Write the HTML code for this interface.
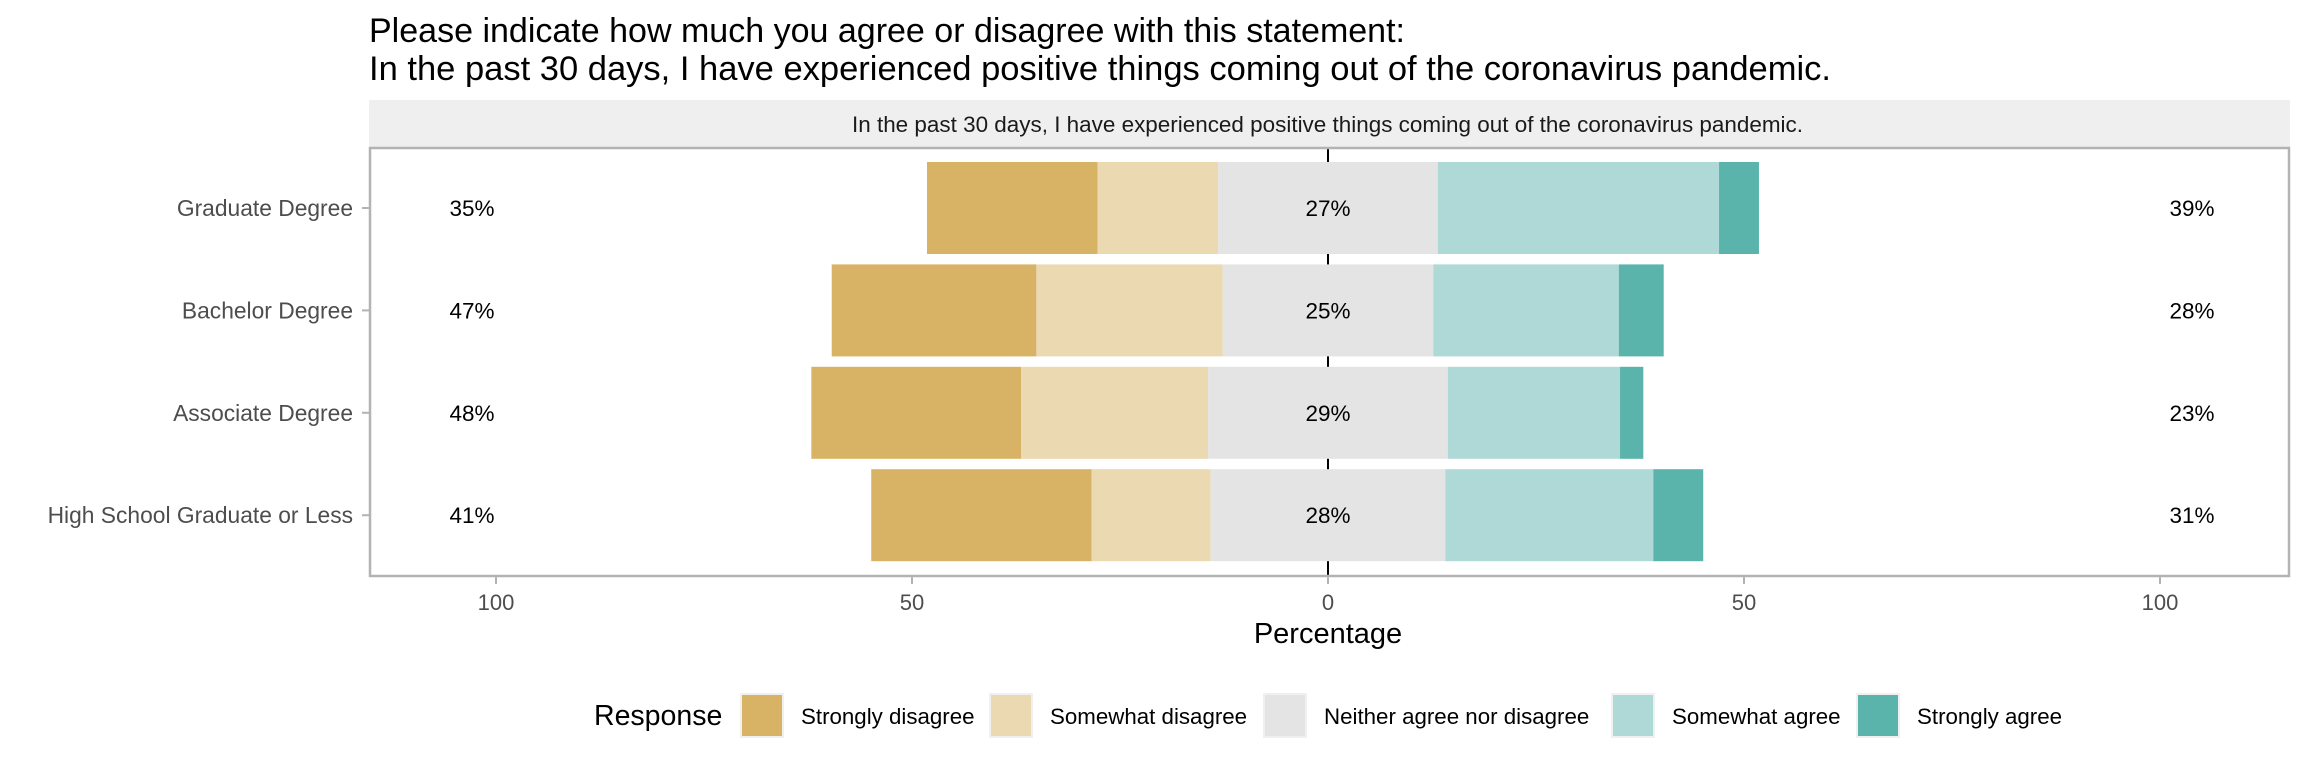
<!DOCTYPE html>
<html><head><meta charset="utf-8"><style>
html,body{margin:0;padding:0;background:#fff;}
svg{display:block;font-family:"Liberation Sans",Arial,sans-serif;}
</style></head><body>
<svg id="chart" width="2304" height="768" viewBox="0 0 2304 768">
<text x="369" y="42" font-size="34" fill="#000" textLength="1036" lengthAdjust="spacingAndGlyphs">Please indicate how much you agree or disagree with this statement:</text>
<text x="369" y="80" font-size="34" fill="#000" textLength="1462" lengthAdjust="spacingAndGlyphs">In the past 30 days, I have experienced positive things coming out of the coronavirus pandemic.</text>
<rect x="369" y="100" width="1921" height="47" fill="#efefef"/>
<text x="852" y="132" font-size="22" fill="#1a1a1a" textLength="951" lengthAdjust="spacingAndGlyphs">In the past 30 days, I have experienced positive things coming out of the coronavirus pandemic.</text>
<g id="plot"></g>
<rect x="370" y="148" width="1919" height="428" fill="none" stroke="#b3b3b3" stroke-width="2.5"/>
<text x="1328" y="643" font-size="29" text-anchor="middle" fill="#000">Percentage</text>
<g id="legend">
<text x="594" y="725" font-size="28.5" fill="#000">Response</text>
</g>
</svg>
<script>
const categories = ["Graduate Degree","Bachelor Degree","Associate Degree","High School Graduate or Less"];
const stronglyDisagree = [20.5, 24.6, 25.2, 26.5];
const somewhatDisagree = [14.5, 22.4, 22.5, 14.3];
const neutral = [26.4, 25.3, 28.8, 28.2];
const somewhatAgree = [33.8, 22.3, 20.7, 25.0];
const stronglyAgree = [4.8, 5.4, 2.8, 6.0];
const leftLabels = ["35%","47%","48%","41%"];
const centerLabels = ["27%","25%","29%","28%"];
const rightLabels = ["39%","28%","23%","31%"];
const xTicks = [-100,-50,0,50,100];
const xTickLabels = ["100","50","0","50","100"];
const responses = ["Strongly disagree","Somewhat disagree","Neither agree nor disagree","Somewhat agree","Strongly agree"];

const colors = ["#d8b365","#ebd9b2","#e4e4e4","#aed9d6","#5ab4ac"];
const NS = "http://www.w3.org/2000/svg";
const plot = document.getElementById('plot');
const legend = document.getElementById('legend');
const x = v => 1328 + v * 8.32;
const rowY = i => 208 + i * 102.4;
const barH = 92;
function mk(tag, attrs, parent, text){
  const e = document.createElementNS(NS, tag);
  for (const k in attrs) e.setAttribute(k, attrs[k]);
  if (text !== undefined) e.textContent = text;
  parent.appendChild(e);
  return e;
}
xTicks.forEach((t,i)=>{
  const tk = mk('line',{x1:x(t),x2:x(t),y1:577,y2:584,stroke:'#b3b3b3','stroke-width':2},plot);
  
  
  const lb = mk('text',{x:x(t),y:610,'font-size':22,'text-anchor':'middle',fill:'#4d4d4d'},plot,xTickLabels[i]);
  
  
});
const series = [stronglyDisagree, somewhatDisagree, neutral, somewhatAgree, stronglyAgree];
categories.forEach((c,i)=>{
  const cy = rowY(i);
  const yt = mk('line',{x1:362,x2:369,y1:cy,y2:cy,stroke:'#b3b3b3','stroke-width':2},plot);
  
  
  const yl = mk('text',{x:353,y:cy+8,'font-size':22.8,'text-anchor':'end',fill:'#4d4d4d'},plot,c);
  
  
  let start = -(stronglyDisagree[i] + somewhatDisagree[i] + neutral[i]/2);
  series.forEach((s,k)=>{
    const r = mk('rect',{x:x(start),y:cy-barH/2,width:s[i]*8.32,height:barH,fill:colors[k]},plot);
    
    
    start += s[i];
  });
  const l1 = mk('text',{x:472,y:cy+8,'font-size':22.5,'text-anchor':'middle',fill:'#000'},plot,leftLabels[i]);
  
  
  const l2 = mk('text',{x:x(0),y:cy+8,'font-size':22.5,'text-anchor':'middle',fill:'#000'},plot,centerLabels[i]);
  
  
  const l3 = mk('text',{x:2192,y:cy+8,'font-size':22.5,'text-anchor':'middle',fill:'#000'},plot,rightLabels[i]);
  
  
});
const zl = mk('line',{x1:x(0),x2:x(0),y1:148,y2:576,stroke:'#000','stroke-width':2},plot);


plot.insertBefore(zl, plot.firstChild);
const keyX = [741,990,1264,1612,1857];
responses.forEach((r,k)=>{
  const kr = mk('rect',{x:keyX[k],y:694,width:42,height:43,fill:colors[k],stroke:'#f0f0f0','stroke-width':2},legend);
  
  
  const kt = mk('text',{x:keyX[k]+60,y:724,'font-size':22.3,fill:'#000'},legend,r);
  
  
});
</script>
</body></html>
